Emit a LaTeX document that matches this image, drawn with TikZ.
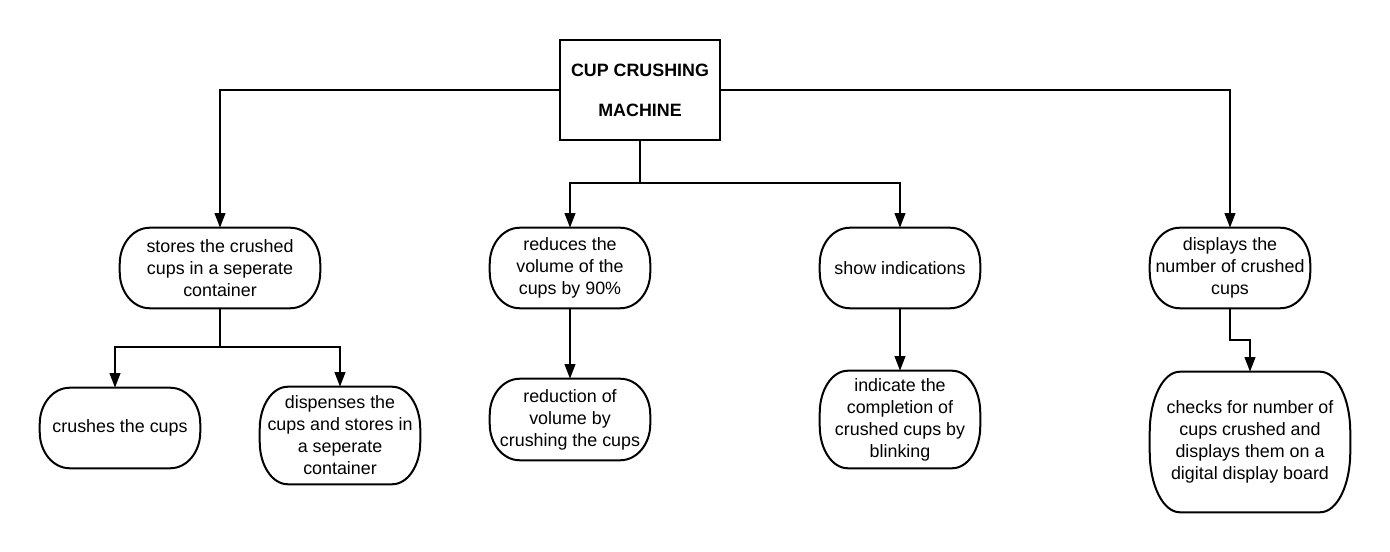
\documentclass[tikz,border=0pt]{standalone}
\usepackage{fontspec}
\setmainfont{Liberation Sans}
\usetikzlibrary{arrows.meta,calc}
\tikzset{
  box/.style={inner sep=0pt, align=center, font=\fontsize{13.4}{16.5}\selectfont},
  rootbox/.style={draw, line width=1.5pt, inner sep=0pt, align=center, font=\fontsize{13.4}{30}\selectfont\bfseries, minimum width=120pt, minimum height=75pt},
  conn/.style={line width=1.5pt},
  arr/.style={line width=1.5pt, -{Triangle[length=11pt,width=8pt]}}
}
% #1 node name, #2 rx, #3 ry (in pixel units)
\newcommand\stadiumpath[3]{%
  \draw[line width=1.5pt] ($(#1.north west)+(#2,0)$) -- ($(#1.north east)+(-#2,0)$)
    arc[start angle=90,end angle=0,x radius=#2*0.75pt,y radius=#3*0.75pt]
    -- ($(#1.south east)+(0,-#3)$)
    arc[start angle=0,end angle=-90,x radius=#2*0.75pt,y radius=#3*0.75pt]
    -- ($(#1.south west)+(#2,0)$)
    arc[start angle=270,end angle=180,x radius=#2*0.75pt,y radius=#3*0.75pt]
    -- ($(#1.north west)+(0,#3)$)
    arc[start angle=180,end angle=90,x radius=#2*0.75pt,y radius=#3*0.75pt]
    -- cycle;}
\begin{document}
\begin{tikzpicture}[x=0.75pt,y=-0.75pt]
\useasboundingbox (0,0) rectangle (1390,552);
\fill[white] (0,0) rectangle (1390,552);

\node[rootbox] (root) at (640,90) {CUP CRUSHING\\MACHINE};

\node[box, minimum width=150pt, minimum height=60pt] (stores) at (220,268) {stores the crushed\\cups in a seperate\\container};
\node[box, minimum width=120pt, minimum height=60pt] (reduces) at (570,268) {reduces the\\volume of the\\cups by 90\%};
\node[box, minimum width=120pt, minimum height=60pt] (show) at (900,268) {show indications};
\node[box, minimum width=120pt, minimum height=60pt] (displays) at (1230,268) {displays the\\number of crushed\\cups};

\node[box, minimum width=120pt, minimum height=60pt] (crushes) at (120,428) {crushes the cups};
\node[box, minimum width=120pt, minimum height=72.75pt] (dispenses) at (340,435.5) {dispenses the\\cups and stores in\\a seperate\\container};
\node[box, minimum width=120pt, minimum height=60.75pt] (reduction) at (570,419.5) {reduction of\\volume by\\crushing the cups};
\node[box, minimum width=120pt, minimum height=72.75pt] (indicate) at (900,419.5) {indicate the\\completion of\\crushed cups by\\blinking};
\node[box, minimum width=150pt, minimum height=105pt] (checks) at (1250,442) {checks for number of\\cups crushed and\\displays them on a\\digital display board};

\stadiumpath{stores}{30}{36}
\stadiumpath{reduces}{30}{36}
\stadiumpath{show}{30}{36}
\stadiumpath{displays}{30}{36}
\stadiumpath{crushes}{30}{36}
\stadiumpath{dispenses}{28}{42}
\stadiumpath{reduction}{30}{36}
\stadiumpath{indicate}{28}{42}
\stadiumpath{checks}{30}{60}

\coordinate (b1) at (640,183);
\coordinate (b2) at (220,347);

\draw[arr] (root.west) -| (stores.north);
\draw[arr] (root.east) -| (displays.north);
\draw[conn] (root.south) -- (b1);
\draw[arr] (b1) -| (reduces.north);
\draw[arr] (b1) -| (show.north);
\draw[conn] (stores.south) -- (b2);
\draw[arr] (b2) -| ($(crushes.north)+(-5,0)$);
\draw[arr] (b2) -| (dispenses.north);
\draw[arr] (reduces.south) -- (reduction.north);
\draw[arr] (show.south) -- (indicate.north);
\draw[arr] (displays.south) -- ++(0,32) -| (checks.north);
\end{tikzpicture}
\end{document}
